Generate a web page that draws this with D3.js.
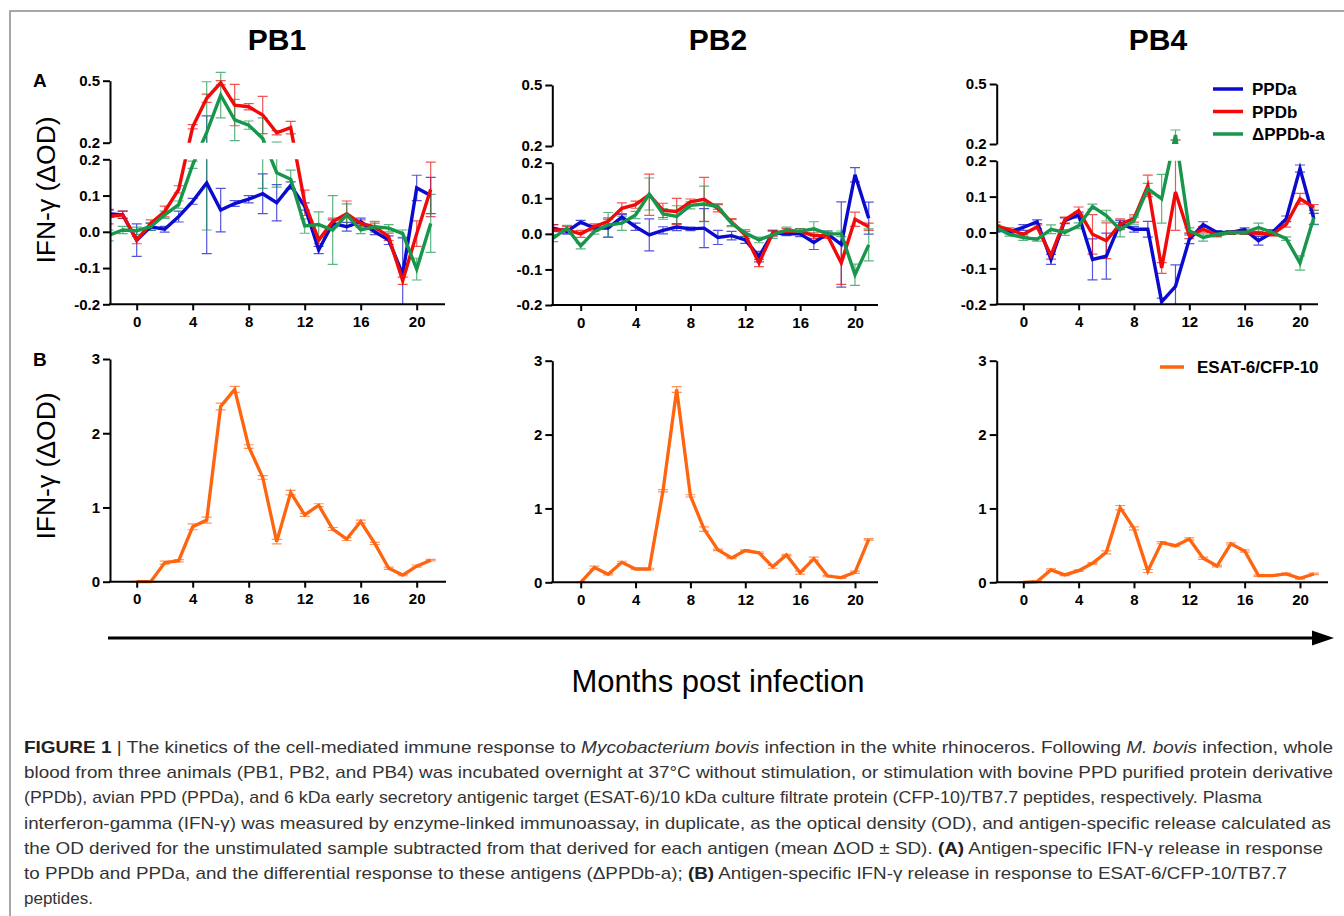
<!DOCTYPE html>
<html><head><meta charset="utf-8">
<script src="https://cdn.jsdelivr.net/npm/d3@7"></script>
<style>body{margin:0;background:#fff}svg{display:block}</style>
</head><body>
<svg id="c" width="1344" height="916"></svg>
<script>
// ---------------- DATA ----------------
const monthsA = d3.range(-2, 22);   // -2 .. 21
const monthsB = d3.range(0, 22);    // 0 .. 21
const animals = ["PB1", "PB2", "PB4"];
const seriesNames = ["PPDa", "PPDb", "\u0394PPDb-a"];
const bottomSeriesName = "ESAT-6/CFP-10";
const xTicks = [0, 4, 8, 12, 16, 20];
const yTicksLower = [-0.2, -0.1, 0.0, 0.1, 0.2];
const yTicksUpper = [0.2, 0.5];
const yTicksB = [0, 1, 2, 3];

// PB1
const pb1PPDa  = [0.050,0.047,-0.023,0.014,0.007,0.042,0.084,0.135,0.060,0.078,0.090,0.105,0.080,0.128,0.070,-0.050,0.023,0.014,0.028,0.000,-0.023,-0.117,0.121,0.100];
const pb1PPDaSD= [0.010,0.010,0.045,0.010,0.008,0.015,0.008,0.195,0.060,0.008,0.010,0.055,0.050,0.010,0.010,0.010,0.010,0.012,0.010,0.008,0.012,0.100,0.035,0.050];
const pb1PPDb  = [0.042,0.047,-0.023,0.023,0.056,0.117,0.277,0.415,0.490,0.382,0.374,0.334,0.248,0.273,0.080,-0.023,0.028,0.050,0.023,0.014,-0.014,-0.135,-0.005,0.117];
const pb1PPDbSD= [0.020,0.010,0.010,0.010,0.015,0.010,0.010,0.020,0.010,0.100,0.015,0.090,0.010,0.030,0.035,0.010,0.010,0.035,0.010,0.010,0.010,0.010,0.035,0.075];
const pb1Delta = [-0.010,0.005,0.003,0.014,0.047,0.075,0.185,0.250,0.430,0.310,0.285,0.220,0.163,0.145,0.016,0.020,0.005,0.047,0.005,0.014,0.010,-0.005,-0.103,0.023];
const pb1DeltaSD=[0.015,0.010,0.010,0.010,0.010,0.010,0.010,0.245,0.110,0.100,0.020,0.100,0.040,0.025,0.020,0.035,0.095,0.030,0.010,0.015,0.010,0.010,0.030,0.080];

// PB2
const pb2PPDa  = [0.016,0.007,0.033,0.016,0.016,0.047,0.020,-0.003,0.010,0.019,0.014,0.016,-0.010,-0.005,-0.017,-0.064,0.002,0.000,0.000,-0.024,0.000,-0.030,0.166,0.044];
const pb2PPDaSD= [0.010,0.008,0.005,0.008,0.025,0.008,0.010,0.045,0.010,0.010,0.005,0.055,0.020,0.012,0.010,0.015,0.008,0.005,0.008,0.020,0.008,0.120,0.020,0.045];
const pb2PPDb  = [0.011,0.011,0.000,0.020,0.035,0.072,0.082,0.110,0.066,0.063,0.090,0.097,0.072,0.033,-0.003,-0.082,0.002,0.007,0.007,-0.005,-0.005,-0.082,0.041,0.020];
const pb2PPDbSD= [0.015,0.010,0.010,0.008,0.010,0.015,0.010,0.058,0.020,0.037,0.008,0.062,0.010,0.010,0.010,0.010,0.008,0.008,0.008,0.008,0.008,0.060,0.020,0.010];
const pb2Delta = [-0.012,0.016,-0.034,0.007,0.025,0.030,0.053,0.112,0.056,0.049,0.080,0.084,0.077,0.030,0.002,-0.017,-0.003,0.011,0.007,0.014,0.000,0.000,-0.115,-0.031];
const pb2DeltaSD=[0.010,0.008,0.008,0.008,0.035,0.020,0.010,0.045,0.015,0.030,0.010,0.050,0.008,0.010,0.010,0.008,0.010,0.008,0.008,0.020,0.008,0.008,0.030,0.045];

// PB4
const pb4PPDa  = [0.009,0.002,0.014,0.030,-0.075,0.033,0.049,-0.075,-0.066,0.026,0.009,0.009,-0.193,-0.150,-0.019,0.022,0.000,0.000,0.008,-0.023,0.000,0.038,0.178,0.038];
const pb4PPDaSD= [0.008,0.005,0.008,0.005,0.014,0.008,0.008,0.057,0.064,0.008,0.008,0.022,0.010,0.060,0.012,0.008,0.005,0.005,0.005,0.012,0.008,0.008,0.010,0.015];
const pb4PPDb  = [0.019,0.008,-0.005,0.016,-0.064,0.035,0.061,-0.005,-0.023,0.023,0.039,0.130,-0.099,0.113,-0.009,0.009,-0.007,0.000,0.000,-0.002,-0.005,0.023,0.094,0.070];
const pb4PPDbSD= [0.010,0.005,0.005,0.005,0.010,0.008,0.010,0.055,0.050,0.015,0.010,0.030,0.015,0.107,0.008,0.008,0.005,0.005,0.005,0.005,0.005,0.008,0.015,0.008];
const pb4Delta = [0.014,-0.005,-0.014,-0.019,0.009,0.000,0.019,0.072,0.047,0.008,0.033,0.122,0.094,0.245,0.005,-0.014,-0.005,0.000,0.000,0.014,0.000,-0.017,-0.085,0.042];
const pb4DeltaSD=[0.008,0.005,0.008,0.005,0.012,0.008,0.008,0.007,0.015,0.020,0.010,0.015,0.068,0.025,0.008,0.010,0.005,0.005,0.005,0.012,0.005,0.005,0.020,0.020];

// ESAT-6/CFP-10 (panel B), months 0..21
const pb1ESAT  = [0,0,0.256,0.283,0.74,0.83,2.36,2.59,1.82,1.405,0.54,1.2,0.9,1.03,0.71,0.575,0.81,0.516,0.18,0.09,0.21,0.29];
const pb1ESATSD= [0.005,0.005,0.02,0.015,0.04,0.04,0.045,0.04,0.025,0.025,0.03,0.03,0.02,0.02,0.02,0.02,0.02,0.015,0.015,0.01,0.015,0.01];
const pb2ESAT  = [0,0.2,0.11,0.27,0.18,0.18,1.24,2.61,1.17,0.72,0.44,0.33,0.43,0.4,0.21,0.37,0.13,0.32,0.085,0.063,0.135,0.58];
const pb2ESATSD= [0.005,0.02,0.01,0.015,0.01,0.01,0.015,0.04,0.015,0.03,0.01,0.01,0.01,0.01,0.02,0.01,0.02,0.02,0.01,0.01,0.015,0.01];
const pb4ESAT  = [0,0.01,0.167,0.1,0.158,0.257,0.406,1.01,0.73,0.153,0.537,0.496,0.586,0.325,0.22,0.52,0.424,0.09,0.09,0.113,0.054,0.113];
const pb4ESATSD= [0.005,0.005,0.015,0.01,0.01,0.01,0.02,0.03,0.02,0.02,0.015,0.015,0.015,0.015,0.01,0.015,0.015,0.01,0.01,0.01,0.01,0.01];

// ---------------- STYLE / LAYOUT ----------------
const colors = ["#0b0bd0", "#f00a0a", "#17964c"];
const orange = "#ff640f";
const FONT = "'Liberation Sans', Arial, Helvetica, sans-serif";

const topLayouts = [
  {axisX:110,   x0:136.7,  x20:416.7, xEnd:445,  y05:80.7, y02u:142.7, y02l:159.3, ym02:304.3},
  {axisX:552.3, x0:580.7,  x20:855,   xEnd:878,  y05:85,   y02u:146,   y02l:162.7, ym02:305},
  {axisX:996.7, x0:1023.3, x20:1300,  xEnd:1318, y05:84,   y02u:144,   y02l:160.7, ym02:304.3}
];
const botLayouts = [
  {axisX:110,   x0:136.7,  x20:416.7, xEnd:446,  y3:359,   y0:581.7},
  {axisX:552.3, x0:580.7,  x20:855,   xEnd:878,  y3:360.7, y0:582.3},
  {axisX:996.7, x0:1023.3, x20:1300,  xEnd:1328, y3:360.7, y0:582.3}
];
const titleX = [277, 718, 1158];

const topData = [
  [[pb1PPDa,pb1PPDaSD],[pb1PPDb,pb1PPDbSD],[pb1Delta,pb1DeltaSD]],
  [[pb2PPDa,pb2PPDaSD],[pb2PPDb,pb2PPDbSD],[pb2Delta,pb2DeltaSD]],
  [[pb4PPDa,pb4PPDaSD],[pb4PPDb,pb4PPDbSD],[pb4Delta,pb4DeltaSD]]
];
const botData = [[pb1ESAT,pb1ESATSD],[pb2ESAT,pb2ESATSD],[pb4ESAT,pb4ESATSD]];

// ---------------- DRAW ----------------
const svg = d3.select("#c");
svg.append("rect").attr("width",1344).attr("height",916).attr("fill","#fff");
svg.append("path").attr("d","M10,916V11H1344").attr("fill","none")
  .attr("stroke","#8a8a8a").attr("stroke-width",1.5);
const defs = svg.append("defs");

function styleAxis(g) {
  g.attr("font-family", FONT).attr("font-size", 15).attr("font-weight", "bold");
  g.selectAll("text").attr("fill", "#000");
  g.selectAll("line").attr("stroke", "#000").attr("stroke-width", 2);
  g.selectAll(".domain").attr("stroke", "#000").attr("stroke-width", 2);
}

function drawErrorBars(g, xs, vals, sds, x, y, color) {
  const eb = g.append("g").attr("stroke", color).attr("stroke-width", 1.2)
    .attr("stroke-opacity", 0.7).attr("fill", "none");
  vals.forEach((v, i) => {
    const px = x(xs[i]), lo = y(v - sds[i]), hi = y(v + sds[i]);
    eb.append("path").attr("d",
      `M${px},${lo}V${hi}M${px-5},${hi}H${px+5}M${px-5},${lo}H${px+5}`);
  });
}

// Titles
animals.forEach((name, i) => {
  svg.append("text").attr("x", titleX[i]).attr("y", 50)
    .attr("text-anchor", "middle").attr("font-family", FONT).attr("font-weight", "bold")
    .attr("font-size", 30).text(name);
});

// Panel A
topLayouts.forEach((L, i) => {
  const g = svg.append("g");
  const x = d3.scaleLinear().domain([0, 20]).range([L.x0, L.x20]);
  const yLow = d3.scaleLinear().domain([-0.2, 0.2]).range([L.ym02, L.y02l]);
  const yUp = d3.scaleLinear().domain([0.2, 0.5]).range([L.y02u, L.y05]);
  const y = v => (v > 0.2 ? yUp(v) : yLow(v));

  const cid = "clipA" + i;
  const cp = defs.append("clipPath").attr("id", cid);
  cp.append("rect").attr("x", L.axisX + 1).attr("y", L.y05 - 14)
    .attr("width", L.xEnd - L.axisX + 10).attr("height", L.y02u - L.y05 + 14);
  cp.append("rect").attr("x", L.axisX + 1).attr("y", L.y02l)
    .attr("width", L.xEnd - L.axisX + 10).attr("height", L.ym02 - L.y02l);

  const plot = g.append("g").attr("clip-path", `url(#${cid})`);
  topData[i].forEach(([vals, sds], s) => {
    drawErrorBars(plot, monthsA, vals, sds, x, y, colors[s]);
  });
  const line = d3.line().x((d, k) => x(monthsA[k])).y(d => y(d));
  topData[i].forEach(([vals], s) => {
    plot.append("path").datum(vals).attr("d", line).attr("fill", "none")
      .attr("stroke", colors[s]).attr("stroke-width", 3.4).attr("stroke-linejoin", "miter");
  });

  const gx = g.append("g").attr("transform", `translate(0,${L.ym02})`)
    .call(d3.axisBottom(x).tickValues(xTicks).tickSize(6).tickPadding(6).tickFormat(d3.format("d")));
  gx.select(".domain").remove();
  styleAxis(gx);
  g.append("line").attr("x1", L.axisX - 1).attr("x2", L.xEnd).attr("y1", L.ym02).attr("y2", L.ym02)
    .attr("stroke", "#000").attr("stroke-width", 2);

  const gyl = g.append("g").attr("transform", `translate(${L.axisX},0)`)
    .call(d3.axisLeft(yLow).tickValues(yTicksLower).tickSize(7).tickPadding(3).tickSizeOuter(0)
      .tickFormat(v => v.toFixed(1)));
  styleAxis(gyl);
  const gyu = g.append("g").attr("transform", `translate(${L.axisX},0)`)
    .call(d3.axisLeft(yUp).tickValues(yTicksUpper).tickSize(7).tickPadding(3).tickSizeOuter(0)
      .tickFormat(v => v.toFixed(1)));
  styleAxis(gyu);
});

// Panel B
botLayouts.forEach((L, i) => {
  const g = svg.append("g");
  const x = d3.scaleLinear().domain([0, 20]).range([L.x0, L.x20]);
  const y = d3.scaleLinear().domain([0, 3]).range([L.y0, L.y3]);
  const [vals, sds] = botData[i];
  drawErrorBars(g, monthsB, vals, sds, x, y, orange);
  g.append("path").datum(vals)
    .attr("d", d3.line().x((d, k) => x(monthsB[k])).y(d => y(d)))
    .attr("fill", "none").attr("stroke", orange).attr("stroke-width", 3.3);

  const gx = g.append("g").attr("transform", `translate(0,${L.y0})`)
    .call(d3.axisBottom(x).tickValues(xTicks).tickSize(6).tickPadding(6).tickFormat(d3.format("d")));
  gx.select(".domain").remove();
  styleAxis(gx);
  g.append("line").attr("x1", L.axisX - 1).attr("x2", L.xEnd).attr("y1", L.y0).attr("y2", L.y0)
    .attr("stroke", "#000").attr("stroke-width", 2);
  const gy = g.append("g").attr("transform", `translate(${L.axisX},0)`)
    .call(d3.axisLeft(y).tickValues(yTicksB).tickSize(7).tickPadding(3).tickSizeOuter(0)
      .tickFormat(d3.format("d")));
  styleAxis(gy);
});

// Panel letters & y labels
[["A", 87], ["B", 366]].forEach(([t, yy]) => {
  svg.append("text").attr("x", 33).attr("y", yy).attr("font-family", FONT)
    .attr("font-weight", "bold").attr("font-size", 19).text(t);
});
[190, 466].forEach(cy => {
  svg.append("text").attr("transform", `translate(55,${cy}) rotate(-90)`)
    .attr("text-anchor", "middle").attr("font-family", FONT).attr("font-size", 26.5)
    .text("IFN-\u03b3 (\u0394OD)");
});

// Legends
const legTop = svg.append("g").attr("font-family", FONT).attr("font-weight", "bold").attr("font-size", 17);
seriesNames.forEach((n, s) => {
  const yy = 89 + s * 22.5;
  legTop.append("line").attr("x1", 1213).attr("x2", 1243).attr("y1", yy).attr("y2", yy)
    .attr("stroke", colors[s]).attr("stroke-width", 3.5);
  legTop.append("text").attr("x", 1252).attr("y", yy + 6).text(n);
});
legTop.append("line").attr("x1", 1160).attr("x2", 1184).attr("y1", 367).attr("y2", 367)
  .attr("stroke", orange).attr("stroke-width", 3.5);
legTop.append("text").attr("x", 1197).attr("y", 373).text(bottomSeriesName);

// Arrow + x title
svg.append("line").attr("x1", 108).attr("x2", 1316).attr("y1", 638).attr("y2", 638)
  .attr("stroke", "#000").attr("stroke-width", 3);
svg.append("path").attr("d", "M1334,638L1312,630.5L1312,645.5Z").attr("fill", "#000");
svg.append("text").attr("x", 718).attr("y", 692).attr("text-anchor", "middle")
  .attr("font-family", FONT).attr("font-size", 31).text("Months post infection");

// Caption
const captionLines = [
  [["FIGURE 1","b"],[" | The kinetics of the cell-mediated immune response to ",""],["Mycobacterium bovis","i"],[" infection in the white rhinoceros. Following ",""],["M. bovis","i"],[" infection, whole",""]],
  [["blood from three animals (PB1, PB2, and PB4) was incubated overnight at 37°C without stimulation, or stimulation with bovine PPD purified protein derivative",""]],
  [["(PPDb), avian PPD (PPDa), and 6 kDa early secretory antigenic target (ESAT-6)/10 kDa culture filtrate protein (CFP-10)/TB7.7 peptides, respectively. Plasma",""]],
  [["interferon-gamma (IFN-\u03b3) was measured by enzyme-linked immunoassay, in duplicate, as the optical density (OD), and antigen-specific release calculated as",""]],
  [["the OD derived for the unstimulated sample subtracted from that derived for each antigen (mean \u0394OD \u00b1 SD). ",""],["(A)","b"],[" Antigen-specific IFN-\u03b3 release in response",""]],
  [["to PPDb and PPDa, and the differential response to these antigens (\u0394PPDb-a); ",""],["(B)","b"],[" Antigen-specific IFN-\u03b3 release in response to ESAT-6/CFP-10/TB7.7",""]],
  [["peptides.",""]]
];
const captionEnds = [1333, 1333, 1262, 1331, 1323, 1287, null];
captionLines.forEach((parts, li) => {
  const t = svg.append("text").attr("x", 24).attr("y", 753 + li * 25.2)
    .attr("font-family", FONT).attr("font-size", 17).attr("fill", "#333");
  parts.forEach(([s, st]) => {
    const sp = t.append("tspan").text(s);
    if (st === "b") sp.attr("font-weight", "bold").attr("fill", "#222");
    if (st === "i") sp.attr("font-style", "italic");
  });
  if (captionEnds[li]) t.attr("textLength", captionEnds[li] - 24).attr("lengthAdjust", "spacingAndGlyphs");
});
</script>
</body></html>
